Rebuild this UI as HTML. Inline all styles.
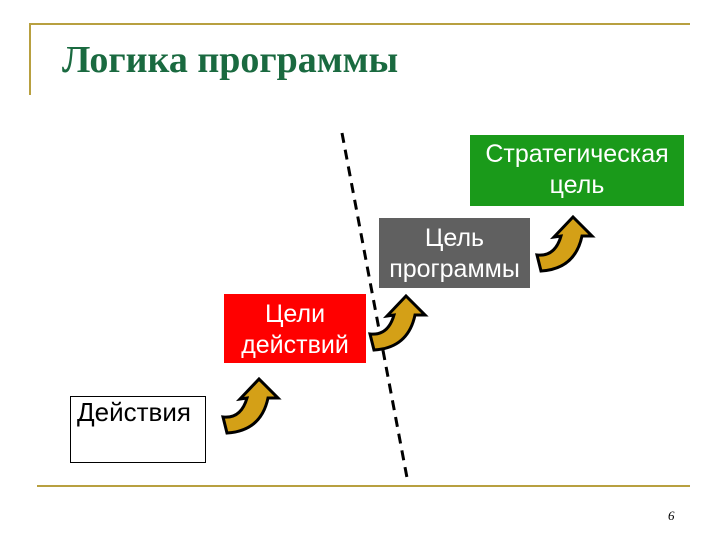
<!DOCTYPE html>
<html><head><meta charset="utf-8"><style>
body{margin:0;width:720px;height:540px;background:#fff;position:relative;overflow:hidden;font-family:"Liberation Sans","Noto Sans CJK SC",sans-serif}
.b{position:absolute;box-sizing:border-box;text-align:center;color:#fff;font-size:25px;line-height:31px;white-space:nowrap}
</style></head><body>
<div style="position:absolute;left:30px;top:23px;width:660px;height:2px;background:#b8a040"></div>
<div style="position:absolute;left:29px;top:23px;width:2px;height:72px;background:#b8a040"></div>
<div style="position:absolute;left:37px;top:485px;width:653px;height:2px;background:#b8a040"></div>
<div style="position:absolute;left:62px;top:38px;font-family:'Liberation Serif',serif;font-size:38px;font-weight:bold;color:#1a6a40;white-space:nowrap">Логика программы</div>
<svg style="position:absolute;left:0;top:0" width="720" height="540">
<line x1="342" y1="133" x2="408" y2="483" stroke="#000" stroke-width="3" stroke-dasharray="10,7"/>
<defs><path id="ar" d="M0,38 Q18,40 24,19 L17,20 L36,0 L55,19 L45,19 Q38,52 4,54 Z" fill="#d4a017" stroke="#000" stroke-width="3"/></defs>
<use href="#ar" x="223" y="379"/>
<use href="#ar" x="370" y="296"/>
<use href="#ar" x="537" y="217"/>
</svg>
<div class="b" style="left:470px;top:135px;width:214px;height:71px;background:#1a9a1a;padding-top:4px">Стратегическая<br>цель</div>
<div class="b" style="left:379px;top:218px;width:151px;height:70px;background:#606060;padding-top:5px">Цель<br>программы</div>
<div class="b" style="left:224px;top:294px;width:142px;height:69px;background:#f00;padding-top:5px">Цели<br>действий</div>
<div class="b" style="left:70px;top:396px;width:136px;height:67px;background:#fff;border:1px solid #000;color:#000;text-align:left;padding-left:6px;line-height:30px;font-size:26px">Действия</div>
<div style="position:absolute;left:668px;top:508px;font-size:13px;font-family:'Liberation Serif',serif;font-style:italic">6</div>
</body></html>
